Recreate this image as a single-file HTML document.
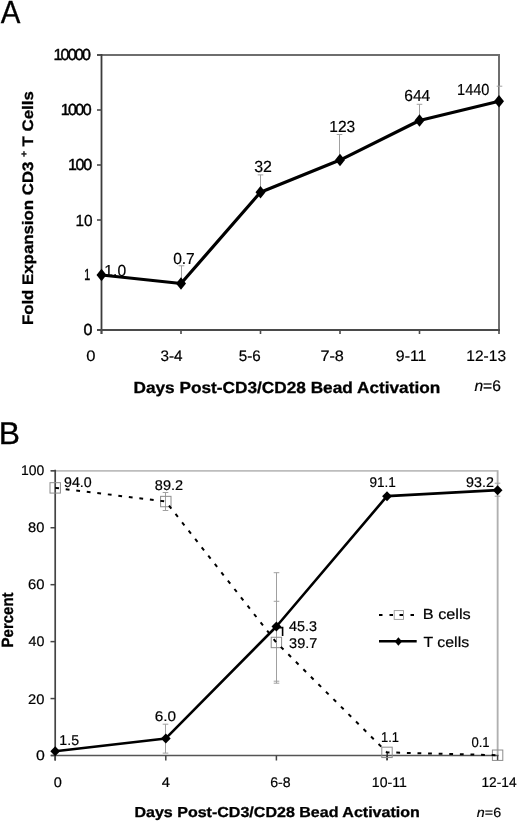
<!DOCTYPE html>
<html><head><meta charset="utf-8"><style>
html,body{margin:0;padding:0;background:#fff;width:520px;height:821px;overflow:hidden}
svg{display:block;filter:grayscale(1)}
text{font-family:"Liberation Sans",sans-serif;fill:#000;stroke:#000;text-rendering:geometricPrecision}
</style></head><body>
<svg width="520" height="821" viewBox="0 0 520 821">
<rect width="520" height="821" fill="#fff"/>
<path d="M97 55.0H499.0V330.0" stroke="#6e6e6e" stroke-width="2" fill="none"/>
<path d="M101.5 54.0V334.0" stroke="#3c3c3c" stroke-width="1.8" fill="none"/>
<path d="M97 330.0H500.0" stroke="#4a4a4a" stroke-width="1.8" fill="none"/>
<path d="M97 55.0H101.5" stroke="#4a4a4a" stroke-width="1.6"/>
<path d="M97 110.0H101.5" stroke="#4a4a4a" stroke-width="1.6"/>
<path d="M97 165.0H101.5" stroke="#4a4a4a" stroke-width="1.6"/>
<path d="M97 220.0H101.5" stroke="#4a4a4a" stroke-width="1.6"/>
<path d="M97 275.0H101.5" stroke="#4a4a4a" stroke-width="1.6"/>
<path d="M97 330.0H101.5" stroke="#4a4a4a" stroke-width="1.6"/>
<path d="M101.50 330.0V334.0" stroke="#4a4a4a" stroke-width="1.6"/>
<path d="M181.00 330.0V334.0" stroke="#4a4a4a" stroke-width="1.6"/>
<path d="M260.50 330.0V334.0" stroke="#4a4a4a" stroke-width="1.6"/>
<path d="M340.00 330.0V334.0" stroke="#4a4a4a" stroke-width="1.6"/>
<path d="M419.50 330.0V334.0" stroke="#4a4a4a" stroke-width="1.6"/>
<path d="M499.00 330.0V334.0" stroke="#4a4a4a" stroke-width="1.6"/>
<path d="M181.50 265.80V283.52M178.70 265.80H184.30" stroke="#a0a0a0" stroke-width="1.0" fill="none"/>
<path d="M260.50 174.90V192.22M257.70 174.90H263.30" stroke="#a0a0a0" stroke-width="1.0" fill="none"/>
<path d="M339.50 134.50V160.06M336.70 134.50H342.30" stroke="#a0a0a0" stroke-width="1.0" fill="none"/>
<path d="M419.50 104.30V120.51M416.70 104.30H422.30" stroke="#a0a0a0" stroke-width="1.0" fill="none"/>
<path d="M499.50 86.20V101.29M496.70 86.20H502.30" stroke="#a0a0a0" stroke-width="1.0" fill="none"/>
<polyline points="101.50,275.00 181.00,283.52 260.50,192.22 340.00,160.06 419.50,120.51 499.00,101.29" fill="none" stroke="#000" stroke-width="3.2" stroke-linejoin="round"/>
<path d="M96.50 275.00L101.50 268.70L106.50 275.00L101.50 281.30Z" fill="#000"/>
<path d="M176.00 283.52L181.00 277.22L186.00 283.52L181.00 289.82Z" fill="#000"/>
<path d="M255.50 192.22L260.50 185.92L265.50 192.22L260.50 198.52Z" fill="#000"/>
<path d="M335.00 160.06L340.00 153.76L345.00 160.06L340.00 166.36Z" fill="#000"/>
<path d="M414.50 120.51L419.50 114.21L424.50 120.51L419.50 126.81Z" fill="#000"/>
<path d="M494.00 101.29L499.00 94.99L504.00 101.29L499.00 107.59Z" fill="#000"/>
<path d="M51 470.8H497.6V755.5" stroke="#bdbdbd" stroke-width="1.8" fill="none"/>
<path d="M497.6 470.8V755.5" stroke="#b0b0b0" stroke-width="1.3" fill="none"/>
<path d="M55.2 469.8V760.5" stroke="#444" stroke-width="1.7" fill="none"/>
<path d="M51 755.5H498.6" stroke="#555" stroke-width="1.7" fill="none"/>
<path d="M50.5 755.50H55.2" stroke="#444" stroke-width="1.5"/>
<path d="M50.5 698.56H55.2" stroke="#444" stroke-width="1.5"/>
<path d="M50.5 641.62H55.2" stroke="#444" stroke-width="1.5"/>
<path d="M50.5 584.68H55.2" stroke="#444" stroke-width="1.5"/>
<path d="M50.5 527.74H55.2" stroke="#444" stroke-width="1.5"/>
<path d="M50.5 470.80H55.2" stroke="#444" stroke-width="1.5"/>
<path d="M55.20 755.5V760.5" stroke="#444" stroke-width="1.5"/>
<path d="M165.80 755.5V760.5" stroke="#444" stroke-width="1.5"/>
<path d="M276.40 755.5V760.5" stroke="#444" stroke-width="1.5"/>
<path d="M387.00 755.5V760.5" stroke="#444" stroke-width="1.5"/>
<path d="M497.60 755.5V760.5" stroke="#444" stroke-width="1.5"/>
<path d="M165.50 492.50V510.50M162.70 492.50H168.30M162.70 510.50H168.30" stroke="#a0a0a0" stroke-width="1.0" fill="none"/>
<path d="M165.50 724.20V753.10M162.70 724.20H168.30M162.70 753.10H168.30" stroke="#a0a0a0" stroke-width="1.0" fill="none"/>
<path d="M276.50 572.70V681.20M273.70 572.70H279.30M273.70 681.20H279.30" stroke="#a0a0a0" stroke-width="1.0" fill="none"/>
<path d="M276.50 601.30V683.20M273.70 601.30H279.30M273.70 683.20H279.30" stroke="#a0a0a0" stroke-width="1.0" fill="none"/>
<path d="M497.50 483.20V496.20M494.70 483.20H500.30M494.70 496.20H500.30" stroke="#a0a0a0" stroke-width="1.0" fill="none"/>
<path d="M387.2 753V760" stroke="#333" stroke-width="1.4"/>
<rect x="50.00" y="482.68" width="10.40" height="10.40" fill="none" stroke="#8c8c8c" stroke-width="1"/>
<rect x="160.60" y="496.35" width="10.40" height="10.40" fill="none" stroke="#8c8c8c" stroke-width="1"/>
<rect x="271.20" y="637.27" width="10.40" height="10.40" fill="none" stroke="#8c8c8c" stroke-width="1"/>
<rect x="381.80" y="747.17" width="10.40" height="10.40" fill="none" stroke="#8c8c8c" stroke-width="1"/>
<rect x="492.40" y="750.02" width="10.40" height="10.40" fill="none" stroke="#8c8c8c" stroke-width="1"/>
<polyline points="55.20,487.88 165.80,501.55 276.40,642.47 387.00,752.37 497.60,755.22" fill="none" stroke="#000" stroke-width="2.0" stroke-dasharray="3.8 6.8"/>
<polyline points="55.20,751.23 165.80,738.42 276.40,626.53 387.00,496.14 497.60,490.16" fill="none" stroke="#000" stroke-width="2.6" stroke-linejoin="round"/>
<path d="M50.30 751.23L55.20 746.23L60.10 751.23L55.20 756.23Z" fill="#000"/>
<path d="M160.90 738.42L165.80 733.42L170.70 738.42L165.80 743.42Z" fill="#000"/>
<path d="M271.50 626.53L276.40 621.53L281.30 626.53L276.40 631.53Z" fill="#000"/>
<path d="M382.10 496.14L387.00 491.14L391.90 496.14L387.00 501.14Z" fill="#000"/>
<path d="M492.70 490.16L497.60 485.16L502.50 490.16L497.60 495.16Z" fill="#000"/>
<path d="M279 627.6H282.6V636" stroke="#000" stroke-width="1.6" fill="none"/>
<path d="M379 615H382.5M389.5 615H393M399.5 615H403M410.5 615H414" stroke="#000" stroke-width="2"/>
<rect x="394.2" y="610.6" width="9.3" height="8.8" fill="none" stroke="#999" stroke-width="0.9"/>
<path d="M379 641.3H416.7" stroke="#000" stroke-width="2.6"/>
<path d="M394.80 641.50L398.40 637.30L402.00 641.50L398.40 645.70Z" fill="#000"/>
<text id="A" x="0.77" y="23.00" font-size="32.08" textLength="19.64" lengthAdjust="spacingAndGlyphs" stroke-width="0.30">A</text>
<text id="ya10000" x="53.42" y="60.00" font-size="16.00" textLength="37.50" lengthAdjust="spacing" stroke-width="0.45">10000</text>
<text id="ya1000" x="60.70" y="115.00" font-size="16.00" textLength="30.90" lengthAdjust="spacing" stroke-width="0.45">1000</text>
<text id="ya100" x="67.88" y="170.00" font-size="16.00" textLength="24.16" lengthAdjust="spacing" stroke-width="0.45">100</text>
<text id="ya10" x="75.50" y="226.00" font-size="16.00" textLength="17.10" lengthAdjust="spacingAndGlyphs" stroke-width="0.30">10</text>
<text id="ya1" x="84.15" y="280.00" font-size="16.00" textLength="5.96" lengthAdjust="spacingAndGlyphs" stroke-width="0.45">1</text>
<text id="ya0" x="83.41" y="335.00" font-size="16.00" textLength="10.54" lengthAdjust="spacing" stroke-width="0.45">0</text>
<text id="xa0" x="86.35" y="361.00" font-size="15.20" textLength="9.22" lengthAdjust="spacingAndGlyphs" stroke-width="0.20">0</text>
<text id="xa1" x="160.51" y="361.00" font-size="15.20" textLength="22.14" lengthAdjust="spacingAndGlyphs" stroke-width="0.20">3-4</text>
<text id="xa2" x="238.79" y="361.00" font-size="15.20" textLength="21.99" lengthAdjust="spacingAndGlyphs" stroke-width="0.20">5-6</text>
<text id="xa3" x="320.42" y="361.00" font-size="15.20" textLength="23.49" lengthAdjust="spacingAndGlyphs" stroke-width="0.20">7-8</text>
<text id="xa4" x="395.83" y="361.00" font-size="15.20" textLength="30.61" lengthAdjust="spacingAndGlyphs" stroke-width="0.20">9-11</text>
<text id="xa5" x="466.32" y="361.00" font-size="15.20" textLength="39.73" lengthAdjust="spacingAndGlyphs" stroke-width="0.20">12-13</text>
<text id="titleA" x="133.44" y="393.00" font-size="15.98" font-weight="bold" textLength="306.85" lengthAdjust="spacingAndGlyphs" stroke-width="0.30">Days Post-CD3/CD28 Bead Activation</text>
<text id="nA" x="474.44" y="391.00" font-size="15.40" textLength="26.49" lengthAdjust="spacingAndGlyphs" stroke-width="0.20"><tspan font-style="italic">n</tspan>=6</text>
<text id="ytitleA" x="32.86" y="325.11" font-size="15.19" font-weight="bold" textLength="233.88" lengthAdjust="spacingAndGlyphs" stroke-width="0.30" transform="rotate(-90 32.86 325.11)">Fold Expansion CD3 <tspan font-size="0.6em" dy="-6">+</tspan><tspan dy="6"> T Cells</tspan></text>
<text id="da0" x="104.37" y="276.00" font-size="16.00" textLength="21.73" lengthAdjust="spacingAndGlyphs" stroke-width="0.20">1.0</text>
<text id="da1" x="173.15" y="264.00" font-size="16.00" textLength="21.65" lengthAdjust="spacingAndGlyphs" stroke-width="0.20">0.7</text>
<text id="da2" x="254.23" y="172.00" font-size="16.00" textLength="17.72" lengthAdjust="spacingAndGlyphs" stroke-width="0.20">32</text>
<text id="da3" x="329.32" y="132.00" font-size="16.00" textLength="25.89" lengthAdjust="spacingAndGlyphs" stroke-width="0.20">123</text>
<text id="da4" x="404.26" y="101.00" font-size="16.00" textLength="26.02" lengthAdjust="spacingAndGlyphs" stroke-width="0.20">644</text>
<text id="da5" x="457.08" y="95.00" font-size="16.00" textLength="32.32" lengthAdjust="spacingAndGlyphs" stroke-width="0.20">1440</text>
<text id="B" x="-1.16" y="444.00" font-size="31.22" textLength="21.23" lengthAdjust="spacingAndGlyphs" stroke-width="0.30">B</text>
<text id="yb100" x="20.95" y="475.00" font-size="13.90" textLength="23.25" lengthAdjust="spacingAndGlyphs" stroke-width="0.20">100</text>
<text id="yb80" x="28.00" y="532.00" font-size="13.90" textLength="16.27" lengthAdjust="spacingAndGlyphs" stroke-width="0.20">80</text>
<text id="yb60" x="27.94" y="589.00" font-size="13.90" textLength="16.47" lengthAdjust="spacingAndGlyphs" stroke-width="0.20">60</text>
<text id="yb40" x="28.48" y="646.00" font-size="13.90" textLength="15.86" lengthAdjust="spacingAndGlyphs" stroke-width="0.20">40</text>
<text id="yb20" x="27.98" y="704.00" font-size="13.90" textLength="16.37" lengthAdjust="spacingAndGlyphs" stroke-width="0.20">20</text>
<text id="yb0" x="35.93" y="760.00" font-size="13.90" textLength="8.81" lengthAdjust="spacingAndGlyphs" stroke-width="0.20">0</text>
<text id="xb0" x="53.72" y="787.00" font-size="14.00" textLength="8.11" lengthAdjust="spacingAndGlyphs" stroke-width="0.20">0</text>
<text id="xb1" x="161.87" y="787.00" font-size="14.00" textLength="8.16" lengthAdjust="spacingAndGlyphs" stroke-width="0.20">4</text>
<text id="xb2" x="270.21" y="787.00" font-size="14.00" textLength="20.43" lengthAdjust="spacingAndGlyphs" stroke-width="0.20">6-8</text>
<text id="xb3" x="371.82" y="787.00" font-size="14.00" textLength="34.93" lengthAdjust="spacingAndGlyphs" stroke-width="0.20">10-11</text>
<text id="xb4" x="481.45" y="787.00" font-size="14.00" textLength="35.11" lengthAdjust="spacingAndGlyphs" stroke-width="0.20">12-14</text>
<text id="titleB" x="134.43" y="817.00" font-size="14.50" font-weight="bold" textLength="285.40" lengthAdjust="spacingAndGlyphs" stroke-width="0.30">Days Post-CD3/CD28 Bead Activation</text>
<text id="nB" x="476.82" y="817.00" font-size="13.31" textLength="24.29" lengthAdjust="spacingAndGlyphs" stroke-width="0.20"><tspan font-style="italic">n</tspan>=6</text>
<text id="percent" x="12.95" y="647.45" font-size="16.25" font-weight="bold" textLength="55.04" lengthAdjust="spacingAndGlyphs" stroke-width="0.30" transform="rotate(-90 12.95 647.45)">Percent</text>
<text id="legB" x="422.73" y="619.00" font-size="14.60" textLength="48.04" lengthAdjust="spacingAndGlyphs" stroke-width="0.20">B cells</text>
<text id="legT" x="423.55" y="647.00" font-size="14.60" textLength="45.54" lengthAdjust="spacingAndGlyphs" stroke-width="0.20">T cells</text>
<text id="db0" x="64.04" y="487.00" font-size="14.10" textLength="27.71" lengthAdjust="spacingAndGlyphs" stroke-width="0.20">94.0</text>
<text id="db1" x="154.83" y="490.00" font-size="14.10" textLength="28.28" lengthAdjust="spacingAndGlyphs" stroke-width="0.20">89.2</text>
<text id="db2" x="289.08" y="648.00" font-size="14.10" textLength="28.23" lengthAdjust="spacingAndGlyphs" stroke-width="0.20">39.7</text>
<text id="db3" x="381.08" y="742.00" font-size="14.10" textLength="17.92" lengthAdjust="spacingAndGlyphs" stroke-width="0.20">1.1</text>
<text id="db4" x="471.40" y="747.00" font-size="14.10" textLength="18.17" lengthAdjust="spacingAndGlyphs" stroke-width="0.20">0.1</text>
<text id="dt0" x="59.35" y="745.00" font-size="14.10" textLength="19.64" lengthAdjust="spacingAndGlyphs" stroke-width="0.20">1.5</text>
<text id="dt1" x="154.70" y="721.00" font-size="14.10" textLength="21.29" lengthAdjust="spacingAndGlyphs" stroke-width="0.20">6.0</text>
<text id="dt2" x="289.07" y="631.00" font-size="14.10" textLength="28.03" lengthAdjust="spacingAndGlyphs" stroke-width="0.20">45.3</text>
<text id="dt3" x="369.49" y="487.00" font-size="14.10" textLength="26.43" lengthAdjust="spacingAndGlyphs" stroke-width="0.20">91.1</text>
<text id="dt4" x="466.12" y="487.00" font-size="14.10" textLength="27.75" lengthAdjust="spacingAndGlyphs" stroke-width="0.20">93.2</text>
</svg>
</body></html>
